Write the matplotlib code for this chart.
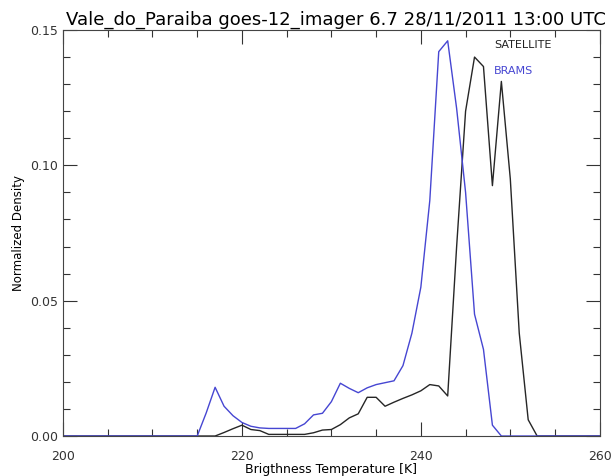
import numpy as np
import matplotlib
matplotlib.use('Agg')
import matplotlib.pyplot as plt
from matplotlib.ticker import MultipleLocator

# brightness temperature bins [K]
temp = np.arange(200, 261)

satellite_pts = {
    218: 0.0013, 219: 0.0027, 220: 0.0040, 221: 0.0024, 222: 0.0020,
    223: 0.0006, 224: 0.0006, 225: 0.0006, 226: 0.0006, 227: 0.0006,
    228: 0.0012, 229: 0.0022, 230: 0.0024, 231: 0.0042, 232: 0.0067,
    233: 0.0082, 234: 0.0143, 235: 0.0143, 236: 0.0110, 237: 0.0125,
    238: 0.0139, 239: 0.0152, 240: 0.0167, 241: 0.0190, 242: 0.0185,
    243: 0.0148, 244: 0.0700, 245: 0.1200, 246: 0.1400, 247: 0.1365,
    248: 0.0925, 249: 0.1310, 250: 0.0950, 251: 0.0380, 252: 0.0060,
}
brams_pts = {
    216: 0.0085, 217: 0.0180, 218: 0.0110, 219: 0.0075, 220: 0.0050,
    221: 0.0036, 222: 0.0030, 223: 0.0028, 224: 0.0028, 225: 0.0028,
    226: 0.0028, 227: 0.0045, 228: 0.0078, 229: 0.0084, 230: 0.0127,
    231: 0.0195, 232: 0.0176, 233: 0.0160, 234: 0.0178, 235: 0.0190,
    236: 0.0197, 237: 0.0204, 238: 0.0260, 239: 0.0380, 240: 0.0550,
    241: 0.0870, 242: 0.1420, 243: 0.1460, 244: 0.1210, 245: 0.0900,
    246: 0.0450, 247: 0.0320, 248: 0.0040,
}
satellite = np.array([satellite_pts.get(t, 0.0) for t in temp])
brams = np.array([brams_pts.get(t, 0.0) for t in temp])

fig = plt.figure(figsize=(6.12, 4.76), dpi=100)
ax = fig.add_axes([0.103, 0.084, 0.877, 0.853])

ax.plot(temp, satellite, color='#262626', lw=1.0)
ax.plot(temp, brams, color='#4646d2', lw=1.0)

ax.set_xlim(200, 260)
ax.set_ylim(0, 0.15)
ax.xaxis.set_major_locator(MultipleLocator(20))
ax.xaxis.set_minor_locator(MultipleLocator(5))
ax.yaxis.set_major_locator(MultipleLocator(0.05))
ax.yaxis.set_minor_locator(MultipleLocator(0.01))
ax.yaxis.set_major_formatter(matplotlib.ticker.FormatStrFormatter('%.2f'))
ax.tick_params(which='both', direction='in', top=True, right=True,
               labelsize=9, colors='#333333')
ax.tick_params(which='major', length=10, width=0.8)
ax.tick_params(which='minor', length=5, width=0.8)
ax.tick_params(axis='x', which='major', pad=10)
for s in ax.spines.values():
    s.set_color('#444444')
    s.set_linewidth(0.8)

ax.set_title('Vale_do_Paraiba goes-12_imager 6.7 28/11/2011 13:00 UTC',
             fontsize=13, pad=4, x=0.508)
ax.set_xlabel('Brigthness Temperature [K]', fontsize=9, labelpad=0)
ax.set_ylabel('Normalized Density', fontsize=8.5, labelpad=4)

ax.text(0.803, 0.963, 'SATELLITE', transform=ax.transAxes, fontsize=8,
        color='#222222', va='center')
ax.text(0.803, 0.898, 'BRAMS', transform=ax.transAxes, fontsize=8,
        color='#4646d2', va='center')

fig.savefig('out.png', dpi=100)
